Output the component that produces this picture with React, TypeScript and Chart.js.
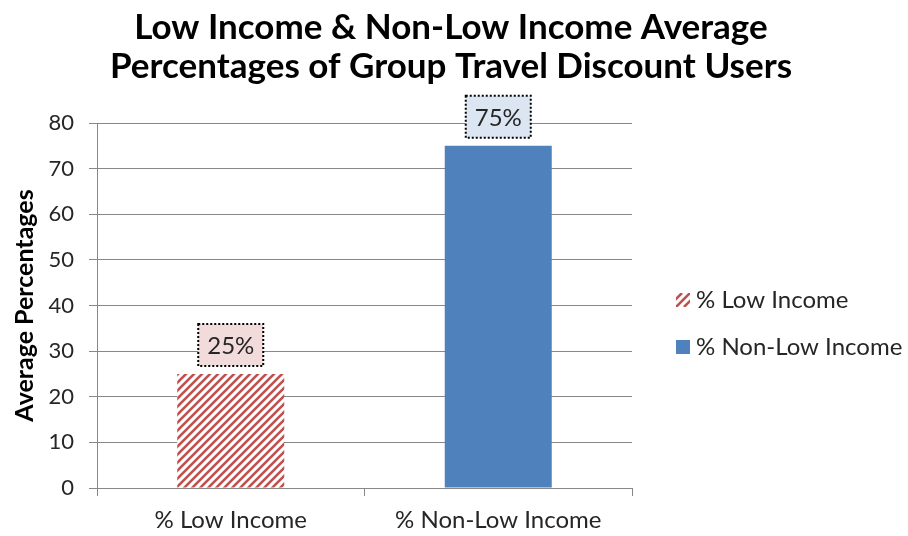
import React, { useEffect, useRef } from "react";
import { Chart, registerables } from "chart.js";

Chart.register(...registerables);

const categories = ["% Low Income", "% Non-Low Income"];
const values = [25, 75];
const valueLabels = ["25%", "75%"];
const titleLines = ["Low Income & Non-Low Income Average", "Percentages of Group Travel Discount Users"];
const yAxisTitle = "Average Percentages";
const yTicks = [0, 10, 20, 30, 40, 50, 60, 70, 80];

const FONT = "Lato, 'Open Sans', sans-serif";
const RED = "#c0504d";
const BLUE = "#4f81bd";
const LABEL_FILLS = ["#f2dcdb", "#dce6f2"];
const GRID = "#878787";
const TEXT = "#262626";

function makeHatch(): CanvasPattern | string {
  const c = document.createElement("canvas");
  c.width = 8;
  c.height = 8;
  const g = c.getContext("2d");
  if (!g) return RED;
  g.fillStyle = "#ffffff";
  g.fillRect(0, 0, 8, 8);
  g.strokeStyle = RED;
  g.lineWidth = 2.6;
  g.beginPath();
  g.moveTo(-2, 10);
  g.lineTo(10, -2);
  g.moveTo(-6, 6);
  g.lineTo(6, -6);
  g.moveTo(2, 14);
  g.lineTo(14, 2);
  g.stroke();
  const p = g.createPattern(c, "repeat");
  return p || RED;
}

export default function App() {
  const ref = useRef<HTMLCanvasElement | null>(null);

  useEffect(() => {
    const canvas = ref.current;
    if (!canvas) return;
    const hatch = makeHatch();

    const overlay = {
      id: "overlay",
      afterDatasetsDraw(chart: any) {
        const ctx = chart.ctx;
        ctx.save();
        // title
        ctx.fillStyle = "#000";
        ctx.font = `bold 35px ${FONT}`;
        ctx.textAlign = "center";
        ctx.textBaseline = "middle";
        titleLines.forEach((t, i) => ctx.fillText(t, 451, 28 + i * 39));

        // data labels
        const meta = chart.getDatasetMeta(0);
        meta.data.forEach((bar: any, i: number) => {
          const w = 65;
          const h = 42;
          const x = bar.x - w / 2;
          const y = bar.y - 8 - h;
          ctx.fillStyle = LABEL_FILLS[i];
          ctx.fillRect(x, y, w, h);
          ctx.setLineDash([2, 2]);
          ctx.lineWidth = 2;
          ctx.strokeStyle = "#000";
          ctx.strokeRect(x, y, w, h);
          ctx.setLineDash([]);
          ctx.fillStyle = TEXT;
          ctx.font = `24px ${FONT}`;
          ctx.textAlign = "center";
          ctx.textBaseline = "middle";
          ctx.fillText(valueLabels[i], bar.x, y + h / 2 + 1);
        });

        // legend
        categories.forEach((c, i) => {
          const cy = 300 + i * 47;
          if (i === 0) {
            ctx.save();
            ctx.beginPath();
            ctx.rect(676, cy - 7, 14, 14);
            ctx.clip();
            ctx.fillStyle = "#fff";
            ctx.fillRect(676, cy - 7, 14, 14);
            ctx.strokeStyle = RED;
            ctx.lineWidth = 2.6;
            ctx.beginPath();
            for (let k = -16; k < 24; k += 8) {
              ctx.moveTo(676 + k, cy + 7);
              ctx.lineTo(676 + k + 14, cy - 7);
            }
            ctx.stroke();
            ctx.restore();
          } else {
            ctx.fillStyle = BLUE;
            ctx.fillRect(676, cy - 7, 14, 14);
          }
          ctx.fillStyle = TEXT;
          ctx.font = `24px ${FONT}`;
          ctx.textAlign = "left";
          ctx.textBaseline = "middle";
          ctx.fillText(c, 696, cy);
        });
        ctx.restore();
      },
    };

    const chart = new Chart(canvas, {
      type: "bar",
      data: {
        labels: categories,
        datasets: [
          {
            data: values,
            backgroundColor: [hatch as any, BLUE],
            borderWidth: 0,
            categoryPercentage: 0.8,
            barPercentage: 0.5,
          },
        ],
      },
      options: {
        animation: false,
        responsive: false,
        maintainAspectRatio: false,
        layout: { padding: { top: 123, right: 276, bottom: 0, left: 0 } },
        plugins: {
          legend: { display: false },
          title: { display: false },
          tooltip: { enabled: false },
        },
        scales: {
          x: {
            afterFit(scale: any) {
              scale.height = 48;
            },
            grid: {
              offset: true,
              drawOnChartArea: false,
              drawTicks: true,
              tickLength: 8,
              color: GRID,
              lineWidth: 1,
            },
            border: { display: true, color: GRID, width: 1 },
            ticks: {
              color: TEXT,
              font: { family: FONT, size: 24 },
              padding: 10,
            },
          },
          y: {
            min: 0,
            max: 80,
            afterFit(scale: any) {
              scale.width = 97;
            },
            afterBuildTicks(scale: any) {
              scale.ticks = yTicks.map((v) => ({ value: v }));
            },
            grid: {
              color: GRID,
              lineWidth: 1,
              drawTicks: true,
              tickLength: 8,
            },
            border: { display: true, color: GRID, width: 1 },
            ticks: {
              color: TEXT,
              font: { family: FONT, size: 22 },
              padding: 15,
            },
            title: {
              display: true,
              text: yAxisTitle,
              color: "#000",
              font: { family: FONT, size: 25, weight: "bold" },
              padding: { top: 10, bottom: 0 },
            },
          },
        },
      },
      plugins: [overlay],
    });

    return () => chart.destroy();
  }, []);

  return (
    <div style={{ position: "absolute", left: 0, top: 0, width: 908, height: 536, background: "#fff" }}>
      <canvas ref={ref} width={908} height={536} style={{ width: 908, height: 536, display: "block" }} />
    </div>
  );
}
